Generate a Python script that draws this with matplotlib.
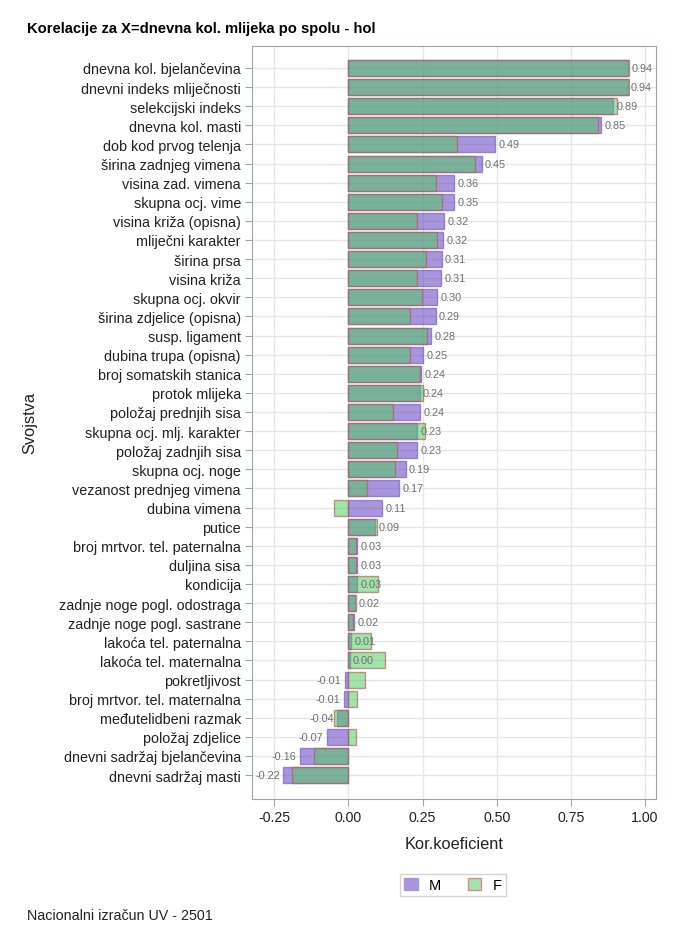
import matplotlib
matplotlib.use("Agg")
import matplotlib.pyplot as plt
from matplotlib.patches import Patch

plt.rcParams['font.family'] = ['Liberation Sans', 'DejaVu Sans']

categories = [
    "dnevna kol. bjelančevina", "dnevni indeks mliječnosti", "selekcijski indeks",
    "dnevna kol. masti", "dob kod prvog telenja", "širina zadnjeg vimena",
    "visina zad. vimena", "skupna ocj. vime", "visina križa (opisna)",
    "mliječni karakter", "širina prsa", "visina križa", "skupna ocj. okvir",
    "širina zdjelice (opisna)", "susp. ligament", "dubina trupa (opisna)",
    "broj somatskih stanica", "protok mlijeka", "položaj prednjih sisa",
    "skupna ocj. mlj. karakter", "položaj zadnjih sisa", "skupna ocj. noge",
    "vezanost prednjeg vimena", "dubina vimena", "putice",
    "broj mrtvor. tel. paternalna", "duljina sisa", "kondicija",
    "zadnje noge pogl. odostraga", "zadnje noge pogl. sastrane",
    "lakoća tel. paternalna", "lakoća tel. maternalna", "pokretljivost",
    "broj mrtvor. tel. maternalna", "međutelidbeni razmak", "položaj zdjelice",
    "dnevni sadržaj bjelančevina", "dnevni sadržaj masti",
]
m_values = [0.942, 0.941, 0.892, 0.851, 0.495, 0.449, 0.357, 0.355, 0.322,
            0.320, 0.314, 0.313, 0.298, 0.294, 0.280, 0.252, 0.244, 0.240,
            0.242, 0.232, 0.232, 0.193, 0.170, 0.113, 0.090, 0.029, 0.028,
            0.028, 0.022, 0.019, 0.008, 0.004, -0.011, -0.015, -0.037,
            -0.073, -0.163, -0.220]
f_values = [0.946, 0.945, 0.905, 0.841, 0.365, 0.426, 0.297, 0.316, 0.232,
            0.298, 0.263, 0.230, 0.248, 0.207, 0.266, 0.209, 0.243, 0.253,
            0.149, 0.259, 0.164, 0.158, 0.062, -0.049, 0.098, 0.027, 0.026,
            0.100, 0.026, 0.016, 0.077, 0.125, 0.056, 0.030, -0.047,
            0.026, -0.116, -0.190]
x_ticks = [-0.25, 0.0, 0.25, 0.5, 0.75, 1.0]

fig = plt.figure(figsize=(6.8, 9.45), dpi=100)
ax = fig.add_axes([252/680, 1-800/945, (656-252)/680, (800-47)/945])

y = list(range(len(categories)))
m_col = (112/255, 78/255, 195/255, 0.6)
f_col = (78/255, 203/255, 95/255, 0.52)
ax.barh(y, m_values, height=0.84, color=m_col,
        edgecolor=(120/255, 95/255, 205/255, 0.7), linewidth=1.0, zorder=2)
ax.barh(y, f_values, height=0.84, color=f_col,
        edgecolor=(175/255, 95/255, 85/255, 0.65), linewidth=1.0, zorder=3)

for yi, v in zip(y, m_values):
    if v >= 0:
        ax.annotate(f"{v:.2f}", (v, yi), xytext=(2.5, 0), textcoords='offset points',
                    ha='left', va='center', fontsize=7.8, color='#707070', zorder=4)
    else:
        ax.annotate(f"{v:.2f}", (v, yi), xytext=(-2.5, 0), textcoords='offset points',
                    ha='right', va='center', fontsize=7.8, color='#707070', zorder=4)

ax.set_xlim(-0.325, 1.037)
ax.set_ylim(len(categories) - 1 + 1.25, -1.15)
ax.set_yticks(y)
ax.set_yticklabels(categories, fontsize=10.4, color='#222222')
ax.set_xticks(x_ticks)
ax.set_xticklabels([f"{t:.2f}" for t in x_ticks], fontsize=10.2, color='#222222')
ax.grid(True, color='#e6e6e6', linewidth=1.0, zorder=0)
ax.set_axisbelow(True)
for s in ax.spines.values():
    s.set_color('#a0a4a8')
ax.tick_params(axis='both', colors='#a0a4a8', labelcolor='#222222', length=5, pad=3)

ax.set_xlabel("Kor.koeficient", fontsize=11.8, color='#222222')
ax.xaxis.set_label_coords(0.5, -(845-800)/753, transform=ax.transAxes)
ax.set_ylabel("Svojstva", fontsize=11.8, color='#222222')
ax.yaxis.set_label_coords(30/680, 1-423.5/945, transform=fig.transFigure)
ax.yaxis.label.set_verticalalignment('center')
ax.xaxis.label.set_verticalalignment('center')

fig.text(27/680, 1-29/945, "Korelacije za X=dnevna kol. mlijeka po spolu - hol",
         fontsize=10.6, fontweight='bold', ha='left', va='center')
fig.text(27/680, 1-916/945, "Nacionalni izračun UV - 2501",
         fontsize=10.3, ha='left', va='center', color='#222222')

handles = [Patch(facecolor=(169/255, 149/255, 219/255), edgecolor=(169/255, 149/255, 219/255), label='M'),
           Patch(facecolor=(163/255, 228/255, 172/255), edgecolor=(215/255, 140/255, 140/255), label='F')]
leg = fig.legend(handles=handles, loc='center', bbox_to_anchor=(453/680, 1-886/945),
                 ncol=2, frameon=True, fontsize=10.5, handlelength=0.9, handleheight=0.9,
                 borderpad=0.3, columnspacing=1.8, handletextpad=0.8, fancybox=False)
leg.get_frame().set_edgecolor('#c8c8c8')
leg.get_frame().set_linewidth(1.0)

fig.savefig("out.png", dpi=100)
